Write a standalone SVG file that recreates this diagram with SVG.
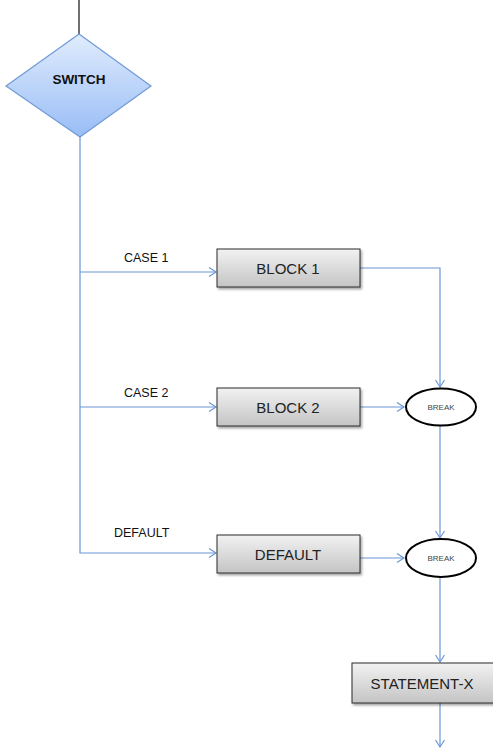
<svg xmlns="http://www.w3.org/2000/svg" width="493" height="750" viewBox="0 0 493 750">
<defs>
<linearGradient id="gBox" x1="0" y1="0" x2="0" y2="1">
<stop offset="0" stop-color="#f2f2f2"/>
<stop offset="1" stop-color="#c4c4c4"/>
</linearGradient>
<linearGradient id="gDia" x1="0" y1="0" x2="0" y2="1">
<stop offset="0" stop-color="#e1ecfd"/>
<stop offset="1" stop-color="#98bdf6"/>
</linearGradient>
<filter id="sh" x="-10%" y="-10%" width="130%" height="140%">
<feDropShadow dx="1.5" dy="2" stdDeviation="1" flood-color="#000" flood-opacity="0.35"/>
</filter>
<marker id="arr" markerUnits="userSpaceOnUse" markerWidth="12" markerHeight="12" viewBox="-10 -6 12 12" refX="0" refY="0" orient="auto">
<path d="M-7,-4.5 L0,0 L-7,4.5" fill="none" stroke="#6a96d6" stroke-width="1.2"/>
</marker>
</defs>
<style>
.box{fill:url(#gBox);stroke:#2a2a2a;stroke-width:1;filter:url(#sh)}
.bt{font-family:"Liberation Sans",Arial,sans-serif;font-size:15px;fill:#222;text-anchor:middle}
.lbl{font-family:"Liberation Sans",Arial,sans-serif;font-size:12.5px;fill:#111}
.brk{fill:#fff;stroke:#000;stroke-width:2}
.bk{font-family:"Liberation Sans",Arial,sans-serif;font-size:8px;fill:#444;text-anchor:middle}
.c{fill:none;stroke:#6a96d6;stroke-width:1.2}
</style>
<g id="connectors">
<line x1="79" y1="0" x2="79" y2="34" stroke="#111" stroke-width="1.2"/>
<polyline class="c" points="80,137 80,553 216,553" marker-end="url(#arr)"/>
<line class="c" x1="80" y1="272" x2="216" y2="272" marker-end="url(#arr)"/>
<line class="c" x1="80" y1="407" x2="216" y2="407" marker-end="url(#arr)"/>
<polyline class="c" points="360,268 440,268 440,387" marker-end="url(#arr)"/>
<line class="c" x1="360" y1="407" x2="404" y2="407" marker-end="url(#arr)"/>
<line class="c" x1="360" y1="558" x2="404" y2="558" marker-end="url(#arr)"/>
<line class="c" x1="440" y1="426" x2="440" y2="538" marker-end="url(#arr)"/>
<line class="c" x1="440" y1="577" x2="440" y2="662" marker-end="url(#arr)"/>
<line class="c" x1="440" y1="703" x2="440" y2="747" marker-end="url(#arr)"/>
<text class="lbl" x="124" y="262">CASE 1</text>
<text class="lbl" x="124" y="397">CASE 2</text>
<text class="lbl" x="114" y="537">DEFAULT</text>
</g>
<g id="switch">
<polygon points="79,34 151,86 80,137 6,86" fill="url(#gDia)" stroke="#6f9ad6" stroke-width="1.2"/>
<text x="79" y="84" font-family="'Liberation Sans',Arial,sans-serif" font-size="13.5" font-weight="bold" fill="#111" text-anchor="middle">SWITCH</text>
</g>
<g id="block1">
<rect class="box" x="217" y="249" width="143" height="38"/>
<text class="bt" x="288" y="273.5">BLOCK 1</text>
</g>
<g id="block2">
<rect class="box" x="217" y="388" width="143" height="38"/>
<text class="bt" x="288" y="412.5">BLOCK 2</text>
</g>
<g id="default">
<rect class="box" x="217" y="535" width="143" height="38"/>
<text class="bt" x="288" y="559.5">DEFAULT</text>
</g>
<g id="break1">
<ellipse class="brk" cx="441" cy="407" rx="35" ry="18.5"/>
<text class="bk" x="441" y="410">BREAK</text>
</g>
<g id="break2">
<ellipse class="brk" cx="441" cy="558" rx="35" ry="19"/>
<text class="bk" x="441" y="561">BREAK</text>
</g>
<g id="statementx">
<rect class="box" x="352" y="663" width="146" height="40"/>
<text class="bt" x="422" y="688.5">STATEMENT-X</text>
</g>
</svg>
